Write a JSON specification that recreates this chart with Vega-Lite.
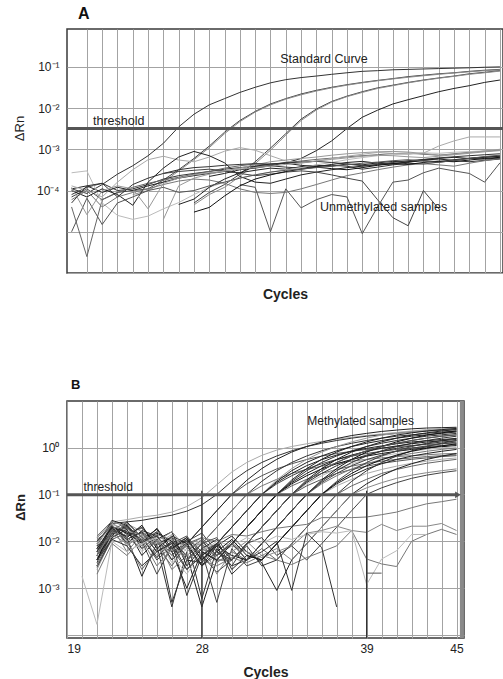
{
"$schema": "https://vega.github.io/schema/vega-lite/v6.json",
"background": "white",
"padding": {"left": 12, "top": 5, "right": 0, "bottom": 2},
"spacing": 76,
"config": {
  "font": "Liberation Sans",
  "view": {"stroke": "#3a3a3a", "strokeWidth": 1.5},
  "axis": {"gridColor": "#a3a3a3", "gridWidth": 1, "gridOpacity": 1, "ticks": false, "domain": false, "labelColor": "#222", "titleColor": "#222", "labelFont": "Liberation Sans", "titleFont": "Liberation Sans", "tickCount": 100},
  "title": {"font": "Liberation Sans", "color": "#111"}
},
"resolve": {"scale": {"color": "independent"}},
"datasets": {
"A": [
{"s":"S1","c":1,"v":1.1e-4},{"s":"S1","c":2,"v":8.5e-5},{"s":"S1","c":3,"v":1.4e-4},{"s":"S1","c":4,"v":2.5e-4},{"s":"S1","c":5,"v":4.0e-4},{"s":"S1","c":6,"v":7.0e-4},{"s":"S1","c":7,"v":1.4e-3},{"s":"S1","c":8,"v":3.5e-3},{"s":"S1","c":9,"v":7.1e-3},{"s":"S1","c":10,"v":1.2e-2},{"s":"S1","c":11,"v":1.7e-2},{"s":"S1","c":12,"v":2.4e-2},{"s":"S1","c":13,"v":3.2e-2},{"s":"S1","c":14,"v":4.1e-2},{"s":"S1","c":15,"v":4.9e-2},{"s":"S1","c":16,"v":5.5e-2},{"s":"S1","c":17,"v":6.0e-2},{"s":"S1","c":18,"v":6.6e-2},{"s":"S1","c":19,"v":7.2e-2},{"s":"S1","c":20,"v":7.8e-2},{"s":"S1","c":21,"v":8.1e-2},{"s":"S1","c":22,"v":8.5e-2},{"s":"S1","c":23,"v":8.7e-2},{"s":"S1","c":24,"v":8.9e-2},{"s":"S1","c":25,"v":9.1e-2},{"s":"S1","c":26,"v":9.3e-2},{"s":"S1","c":27,"v":9.5e-2},{"s":"S1","c":28,"v":9.8e-2},{"s":"S1","c":29,"v":0.1},
{"s":"S2","c":1,"v":7e-5},{"s":"S2","c":2,"v":1.1e-4},{"s":"S2","c":3,"v":6e-5},{"s":"S2","c":4,"v":9e-5},{"s":"S2","c":5,"v":1.0e-4},{"s":"S2","c":6,"v":1.1e-4},{"s":"S2","c":7,"v":1.8e-4},{"s":"S2","c":8,"v":3.2e-4},{"s":"S2","c":9,"v":6.0e-4},{"s":"S2","c":10,"v":1.2e-3},{"s":"S2","c":11,"v":2.6e-3},{"s":"S2","c":12,"v":5.0e-3},{"s":"S2","c":13,"v":8.3e-3},{"s":"S2","c":14,"v":1.26e-2},{"s":"S2","c":15,"v":1.7e-2},{"s":"S2","c":16,"v":2.2e-2},{"s":"S2","c":17,"v":2.7e-2},{"s":"S2","c":18,"v":3.2e-2},{"s":"S2","c":19,"v":3.7e-2},{"s":"S2","c":20,"v":4.2e-2},{"s":"S2","c":21,"v":4.7e-2},{"s":"S2","c":22,"v":5.2e-2},{"s":"S2","c":23,"v":5.8e-2},{"s":"S2","c":24,"v":6.3e-2},{"s":"S2","c":25,"v":6.8e-2},{"s":"S2","c":26,"v":7.2e-2},{"s":"S2","c":27,"v":7.8e-2},{"s":"S2","c":28,"v":8.3e-2},{"s":"S2","c":29,"v":8.7e-2},
{"s":"S3","c":5,"v":8e-5},{"s":"S3","c":6,"v":1.0e-4},{"s":"S3","c":7,"v":1.6e-4},{"s":"S3","c":8,"v":3.0e-4},{"s":"S3","c":9,"v":5.6e-4},{"s":"S3","c":10,"v":1.1e-3},{"s":"S3","c":11,"v":2.4e-3},{"s":"S3","c":12,"v":4.7e-3},{"s":"S3","c":13,"v":8.0e-3},{"s":"S3","c":14,"v":1.2e-2},{"s":"S3","c":15,"v":1.65e-2},{"s":"S3","c":16,"v":2.1e-2},{"s":"S3","c":17,"v":2.6e-2},{"s":"S3","c":18,"v":3.1e-2},{"s":"S3","c":19,"v":3.6e-2},{"s":"S3","c":20,"v":4.1e-2},{"s":"S3","c":21,"v":4.6e-2},{"s":"S3","c":22,"v":5.1e-2},{"s":"S3","c":23,"v":5.6e-2},{"s":"S3","c":24,"v":6.1e-2},{"s":"S3","c":25,"v":6.6e-2},{"s":"S3","c":26,"v":7.1e-2},{"s":"S3","c":27,"v":7.6e-2},{"s":"S3","c":28,"v":8.1e-2},{"s":"S3","c":29,"v":8.5e-2},
{"s":"S4","c":9,"v":5e-5},{"s":"S4","c":10,"v":9e-5},{"s":"S4","c":11,"v":1.4e-4},{"s":"S4","c":12,"v":2.5e-4},{"s":"S4","c":13,"v":5.0e-4},{"s":"S4","c":14,"v":1.07e-3},{"s":"S4","c":15,"v":2.4e-3},{"s":"S4","c":16,"v":5.4e-3},{"s":"S4","c":17,"v":9.5e-3},{"s":"S4","c":18,"v":1.45e-2},{"s":"S4","c":19,"v":1.95e-2},{"s":"S4","c":20,"v":2.5e-2},{"s":"S4","c":21,"v":3.1e-2},{"s":"S4","c":22,"v":3.6e-2},{"s":"S4","c":23,"v":4.2e-2},{"s":"S4","c":24,"v":4.8e-2},{"s":"S4","c":25,"v":5.4e-2},{"s":"S4","c":26,"v":6.0e-2},{"s":"S4","c":27,"v":6.8e-2},{"s":"S4","c":28,"v":7.4e-2},{"s":"S4","c":29,"v":8.1e-2},
{"s":"S5","c":9,"v":4.5e-5},{"s":"S5","c":10,"v":8e-5},{"s":"S5","c":11,"v":1.2e-4},{"s":"S5","c":12,"v":2.2e-4},{"s":"S5","c":13,"v":4.5e-4},{"s":"S5","c":14,"v":9.5e-4},{"s":"S5","c":15,"v":2.2e-3},{"s":"S5","c":16,"v":5.0e-3},{"s":"S5","c":17,"v":9.0e-3},{"s":"S5","c":18,"v":1.4e-2},{"s":"S5","c":19,"v":1.9e-2},{"s":"S5","c":20,"v":2.4e-2},{"s":"S5","c":21,"v":3.0e-2},{"s":"S5","c":22,"v":3.5e-2},{"s":"S5","c":23,"v":4.1e-2},{"s":"S5","c":24,"v":4.7e-2},{"s":"S5","c":25,"v":5.3e-2},{"s":"S5","c":26,"v":5.9e-2},{"s":"S5","c":27,"v":6.6e-2},{"s":"S5","c":28,"v":7.2e-2},{"s":"S5","c":29,"v":7.9e-2},
{"s":"S6","c":10,"v":2.2e-4},{"s":"S6","c":11,"v":2.6e-4},{"s":"S6","c":12,"v":3.2e-4},{"s":"S6","c":13,"v":3.5e-4},{"s":"S6","c":14,"v":4.0e-4},{"s":"S6","c":15,"v":4.7e-4},{"s":"S6","c":16,"v":6.0e-4},{"s":"S6","c":17,"v":9.3e-4},{"s":"S6","c":18,"v":1.6e-3},{"s":"S6","c":19,"v":3.2e-3},{"s":"S6","c":20,"v":6.0e-3},{"s":"S6","c":21,"v":8.9e-3},{"s":"S6","c":22,"v":1.26e-2},{"s":"S6","c":23,"v":1.6e-2},{"s":"S6","c":24,"v":2.0e-2},{"s":"S6","c":25,"v":2.5e-2},{"s":"S6","c":26,"v":3.0e-2},{"s":"S6","c":27,"v":3.5e-2},{"s":"S6","c":28,"v":4.2e-2},{"s":"S6","c":29,"v":4.8e-2},
{"s":"U1","c":1,"v":1.1e-4},{"s":"U1","c":2,"v":1.3e-4},{"s":"U1","c":3,"v":9e-5},{"s":"U1","c":4,"v":1.2e-4},{"s":"U1","c":5,"v":1.0e-4},{"s":"U1","c":6,"v":1.3e-4},{"s":"U1","c":7,"v":1.6e-4},{"s":"U1","c":8,"v":2.0e-4},{"s":"U1","c":9,"v":2.3e-4},{"s":"U1","c":10,"v":2.6e-4},{"s":"U1","c":11,"v":2.9e-4},{"s":"U1","c":12,"v":2.7e-4},{"s":"U1","c":13,"v":3.1e-4},{"s":"U1","c":14,"v":3.5e-4},{"s":"U1","c":15,"v":3.3e-4},{"s":"U1","c":16,"v":3.8e-4},{"s":"U1","c":17,"v":4.1e-4},{"s":"U1","c":18,"v":3.9e-4},{"s":"U1","c":19,"v":4.4e-4},{"s":"U1","c":20,"v":4.2e-4},{"s":"U1","c":21,"v":4.7e-4},{"s":"U1","c":22,"v":5.1e-4},{"s":"U1","c":23,"v":4.9e-4},{"s":"U1","c":24,"v":5.5e-4},{"s":"U1","c":25,"v":5.8e-4},{"s":"U1","c":26,"v":5.4e-4},{"s":"U1","c":27,"v":6.1e-4},{"s":"U1","c":28,"v":6.5e-4},{"s":"U1","c":29,"v":6.9e-4},
{"s":"U2","c":1,"v":8e-5},{"s":"U2","c":2,"v":1.2e-4},{"s":"U2","c":3,"v":1.5e-4},{"s":"U2","c":4,"v":1.0e-4},{"s":"U2","c":5,"v":1.1e-4},{"s":"U2","c":6,"v":1.4e-4},{"s":"U2","c":7,"v":1.9e-4},{"s":"U2","c":8,"v":2.3e-4},{"s":"U2","c":9,"v":2.6e-4},{"s":"U2","c":10,"v":2.9e-4},{"s":"U2","c":11,"v":3.3e-4},{"s":"U2","c":12,"v":3.6e-4},{"s":"U2","c":13,"v":3.9e-4},{"s":"U2","c":14,"v":4.0e-4},{"s":"U2","c":15,"v":3.7e-4},{"s":"U2","c":16,"v":3.5e-4},{"s":"U2","c":17,"v":3.8e-4},{"s":"U2","c":18,"v":4.1e-4},{"s":"U2","c":19,"v":3.9e-4},{"s":"U2","c":20,"v":3.3e-4},{"s":"U2","c":21,"v":3.7e-4},{"s":"U2","c":22,"v":4.2e-4},{"s":"U2","c":23,"v":4.6e-4},{"s":"U2","c":24,"v":4.4e-4},{"s":"U2","c":25,"v":4.9e-4},{"s":"U2","c":26,"v":5.3e-4},{"s":"U2","c":27,"v":5.0e-4},{"s":"U2","c":28,"v":5.4e-4},{"s":"U2","c":29,"v":5.8e-4},
{"s":"U3","c":1,"v":4e-5},{"s":"U3","c":2,"v":2.5e-6},{"s":"U3","c":3,"v":6e-5},{"s":"U3","c":4,"v":9e-5},{"s":"U3","c":5,"v":1.2e-4},{"s":"U3","c":6,"v":1.5e-4},{"s":"U3","c":7,"v":1.8e-4},{"s":"U3","c":8,"v":2.1e-4},{"s":"U3","c":9,"v":2.5e-4},{"s":"U3","c":10,"v":2.9e-4},{"s":"U3","c":11,"v":3.5e-4},{"s":"U3","c":12,"v":4.0e-4},{"s":"U3","c":13,"v":4.4e-4},{"s":"U3","c":14,"v":4.2e-4},{"s":"U3","c":15,"v":4.8e-4},{"s":"U3","c":16,"v":5.2e-4},{"s":"U3","c":17,"v":5.7e-4},{"s":"U3","c":18,"v":6.1e-4},{"s":"U3","c":19,"v":6.6e-4},{"s":"U3","c":20,"v":7.0e-4},{"s":"U3","c":21,"v":7.4e-4},{"s":"U3","c":22,"v":7.9e-4},{"s":"U3","c":23,"v":8.1e-4},{"s":"U3","c":24,"v":7.6e-4},{"s":"U3","c":25,"v":7.2e-4},{"s":"U3","c":26,"v":7.8e-4},{"s":"U3","c":27,"v":8.5e-4},{"s":"U3","c":28,"v":9.0e-4},{"s":"U3","c":29,"v":9.6e-4},
{"s":"U4","c":1,"v":2.7e-4},{"s":"U4","c":2,"v":3.0e-4},{"s":"U4","c":3,"v":5e-5},{"s":"U4","c":4,"v":2.5e-5},{"s":"U4","c":5,"v":2.0e-5},{"s":"U4","c":6,"v":2.4e-5},{"s":"U4","c":7,"v":3.6e-5},{"s":"U4","c":8,"v":5.1e-5},{"s":"U4","c":9,"v":8e-5},{"s":"U4","c":10,"v":1.2e-4},{"s":"U4","c":11,"v":1.6e-4},{"s":"U4","c":12,"v":2.0e-4},{"s":"U4","c":13,"v":2.4e-4},{"s":"U4","c":14,"v":2.8e-4},{"s":"U4","c":15,"v":3.2e-4},{"s":"U4","c":16,"v":3.6e-4},{"s":"U4","c":17,"v":4.2e-4},{"s":"U4","c":18,"v":4.8e-4},{"s":"U4","c":19,"v":5.6e-4},{"s":"U4","c":20,"v":6.3e-4},{"s":"U4","c":21,"v":7.0e-4},{"s":"U4","c":22,"v":7.4e-4},{"s":"U4","c":23,"v":7.8e-4},{"s":"U4","c":24,"v":8.2e-4},{"s":"U4","c":25,"v":8.0e-4},{"s":"U4","c":26,"v":8.5e-4},{"s":"U4","c":27,"v":8.8e-4},{"s":"U4","c":28,"v":9.2e-4},{"s":"U4","c":29,"v":1.0e-3},
{"s":"U5","c":1,"v":1.3e-4},{"s":"U5","c":2,"v":1.0e-4},{"s":"U5","c":3,"v":7e-5},{"s":"U5","c":4,"v":1.6e-4},{"s":"U5","c":5,"v":3.2e-4},{"s":"U5","c":6,"v":5.6e-4},{"s":"U5","c":7,"v":6.8e-4},{"s":"U5","c":8,"v":5.5e-4},{"s":"U5","c":9,"v":5.0e-4},{"s":"U5","c":10,"v":6.5e-4},{"s":"U5","c":11,"v":9.0e-4},{"s":"U5","c":12,"v":1.1e-3},{"s":"U5","c":13,"v":9.5e-4},{"s":"U5","c":14,"v":7.0e-4},{"s":"U5","c":15,"v":5.2e-4},{"s":"U5","c":16,"v":4.6e-4},{"s":"U5","c":17,"v":5.2e-4},{"s":"U5","c":18,"v":6.0e-4},{"s":"U5","c":19,"v":6.8e-4},{"s":"U5","c":20,"v":7.6e-4},{"s":"U5","c":21,"v":8.4e-4},{"s":"U5","c":22,"v":8.0e-4},{"s":"U5","c":23,"v":7.6e-4},{"s":"U5","c":24,"v":8.1e-4},{"s":"U5","c":25,"v":1.2e-3},{"s":"U5","c":26,"v":1.6e-3},{"s":"U5","c":27,"v":2.0e-3},{"s":"U5","c":28,"v":2.0e-3},{"s":"U5","c":29,"v":2.0e-3},
{"s":"U6","c":1,"v":1.0e-4},{"s":"U6","c":2,"v":7e-5},{"s":"U6","c":3,"v":1.1e-4},{"s":"U6","c":4,"v":8e-5},{"s":"U6","c":5,"v":4.4e-5},{"s":"U6","c":6,"v":1.6e-4},{"s":"U6","c":7,"v":3.5e-4},{"s":"U6","c":8,"v":6.5e-4},{"s":"U6","c":9,"v":8.9e-4},{"s":"U6","c":10,"v":7.0e-4},{"s":"U6","c":11,"v":4.7e-4},{"s":"U6","c":12,"v":2.2e-4},{"s":"U6","c":13,"v":1.6e-4},{"s":"U6","c":14,"v":1.5e-4},{"s":"U6","c":15,"v":1.9e-4},{"s":"U6","c":16,"v":2.4e-4},{"s":"U6","c":17,"v":2.8e-4},{"s":"U6","c":18,"v":3.2e-4},{"s":"U6","c":19,"v":3.6e-4},{"s":"U6","c":20,"v":3.9e-4},{"s":"U6","c":21,"v":4.2e-4},{"s":"U6","c":22,"v":4.5e-4},{"s":"U6","c":23,"v":4.9e-4},{"s":"U6","c":24,"v":5.3e-4},{"s":"U6","c":25,"v":5.0e-4},{"s":"U6","c":26,"v":5.6e-4},{"s":"U6","c":27,"v":6.0e-4},{"s":"U6","c":28,"v":6.4e-4},{"s":"U6","c":29,"v":6.8e-4},
{"s":"U7","c":12,"v":1.4e-4},{"s":"U7","c":13,"v":1.2e-4},{"s":"U7","c":14,"v":1.0e-5},{"s":"U7","c":15,"v":1.1e-4},{"s":"U7","c":16,"v":3.8e-5},{"s":"U7","c":17,"v":6e-5},{"s":"U7","c":18,"v":8e-5},{"s":"U7","c":19,"v":7e-5},{"s":"U7","c":20,"v":9e-6},{"s":"U7","c":21,"v":4e-5},{"s":"U7","c":22,"v":1.6e-4},{"s":"U7","c":23,"v":1.8e-4},{"s":"U7","c":24,"v":2.7e-4},{"s":"U7","c":25,"v":3.5e-4},{"s":"U7","c":26,"v":3.0e-4},{"s":"U7","c":27,"v":2.6e-4},{"s":"U7","c":28,"v":1.6e-4},{"s":"U7","c":29,"v":4.7e-4},
{"s":"U8","c":1,"v":6e-5},{"s":"U8","c":2,"v":1.0e-4},{"s":"U8","c":3,"v":4e-5},{"s":"U8","c":4,"v":7e-5},{"s":"U8","c":5,"v":9e-5},{"s":"U8","c":6,"v":1.1e-4},{"s":"U8","c":7,"v":1.4e-4},{"s":"U8","c":8,"v":1.7e-4},{"s":"U8","c":9,"v":1.9e-4},{"s":"U8","c":10,"v":1.8e-4},{"s":"U8","c":11,"v":1.5e-4},{"s":"U8","c":12,"v":1.1e-4},{"s":"U8","c":13,"v":9e-5},{"s":"U8","c":14,"v":8.5e-5},{"s":"U8","c":15,"v":9e-5},{"s":"U8","c":16,"v":1.1e-4},{"s":"U8","c":17,"v":1.4e-4},{"s":"U8","c":18,"v":1.8e-4},{"s":"U8","c":19,"v":2.3e-4},{"s":"U8","c":20,"v":2.7e-4},{"s":"U8","c":21,"v":3.2e-4},{"s":"U8","c":22,"v":3.7e-4},{"s":"U8","c":23,"v":4.2e-4},{"s":"U8","c":24,"v":4.5e-4},{"s":"U8","c":25,"v":4.2e-4},{"s":"U8","c":26,"v":3.9e-4},{"s":"U8","c":27,"v":4.6e-4},{"s":"U8","c":28,"v":5.3e-4},{"s":"U8","c":29,"v":6.0e-4},
{"s":"U9","c":7,"v":2.6e-4},{"s":"U9","c":8,"v":2.9e-4},{"s":"U9","c":9,"v":3.1e-4},{"s":"U9","c":10,"v":3.3e-4},{"s":"U9","c":11,"v":3.0e-4},{"s":"U9","c":12,"v":2.6e-4},{"s":"U9","c":13,"v":2.3e-4},{"s":"U9","c":14,"v":2.5e-4},{"s":"U9","c":15,"v":2.8e-4},{"s":"U9","c":16,"v":3.0e-4},{"s":"U9","c":17,"v":2.8e-4},{"s":"U9","c":18,"v":2.4e-4},{"s":"U9","c":19,"v":2.0e-4},{"s":"U9","c":20,"v":1.7e-4},{"s":"U9","c":21,"v":6e-5},{"s":"U9","c":22,"v":2.2e-5},{"s":"U9","c":23,"v":1.4e-5},{"s":"U9","c":24,"v":1.0e-4},{"s":"U9","c":25,"v":3.6e-5},
{"s":"U10","c":8,"v":4.6e-5},{"s":"U10","c":9,"v":6.2e-5},{"s":"U10","c":10,"v":1.2e-4},{"s":"U10","c":11,"v":1.9e-4},{"s":"U10","c":12,"v":2.7e-4},{"s":"U10","c":13,"v":3.9e-4},{"s":"U10","c":14,"v":4.4e-4},{"s":"U10","c":15,"v":4.6e-4},{"s":"U10","c":16,"v":4.1e-4},{"s":"U10","c":17,"v":3.8e-4},{"s":"U10","c":18,"v":4.3e-4},{"s":"U10","c":19,"v":4.8e-4},{"s":"U10","c":20,"v":5.1e-4},{"s":"U10","c":21,"v":4.6e-4},{"s":"U10","c":22,"v":4.4e-4},{"s":"U10","c":23,"v":5.0e-4},{"s":"U10","c":24,"v":5.6e-4},{"s":"U10","c":25,"v":6.0e-4},{"s":"U10","c":26,"v":6.4e-4},{"s":"U10","c":27,"v":6.0e-4},{"s":"U10","c":28,"v":5.8e-4},{"s":"U10","c":29,"v":6.2e-4},
{"s":"U11","c":9,"v":3.0e-5},{"s":"U11","c":10,"v":3.9e-5},{"s":"U11","c":11,"v":7.4e-5},{"s":"U11","c":12,"v":1.3e-4},{"s":"U11","c":13,"v":1.9e-4},{"s":"U11","c":14,"v":2.4e-4},{"s":"U11","c":15,"v":2.9e-4},{"s":"U11","c":16,"v":3.3e-4},{"s":"U11","c":17,"v":3.7e-4},{"s":"U11","c":18,"v":3.4e-4},{"s":"U11","c":19,"v":3.2e-4},{"s":"U11","c":20,"v":3.6e-4},{"s":"U11","c":21,"v":4.1e-4},{"s":"U11","c":22,"v":4.5e-4},{"s":"U11","c":23,"v":4.3e-4},{"s":"U11","c":24,"v":4.8e-4},{"s":"U11","c":25,"v":5.2e-4},{"s":"U11","c":26,"v":5.0e-4},{"s":"U11","c":27,"v":5.5e-4},{"s":"U11","c":28,"v":6.0e-4},{"s":"U11","c":29,"v":6.4e-4},
{"s":"U12","c":7,"v":2.0e-5},{"s":"U12","c":8,"v":1.3e-4},{"s":"U12","c":9,"v":2.0e-4},{"s":"U12","c":10,"v":2.5e-4},{"s":"U12","c":11,"v":3.0e-4},{"s":"U12","c":12,"v":3.5e-4},{"s":"U12","c":13,"v":4.2e-4},{"s":"U12","c":14,"v":5.0e-4},{"s":"U12","c":15,"v":5.5e-4},{"s":"U12","c":16,"v":6.0e-4},{"s":"U12","c":17,"v":6.5e-4},{"s":"U12","c":18,"v":7.2e-4},{"s":"U12","c":19,"v":7.8e-4},{"s":"U12","c":20,"v":8.3e-4},{"s":"U12","c":21,"v":8.7e-4},{"s":"U12","c":22,"v":8.9e-4},{"s":"U12","c":23,"v":8.6e-4},{"s":"U12","c":24,"v":7.9e-4},{"s":"U12","c":25,"v":7.2e-4},{"s":"U12","c":26,"v":7.6e-4},{"s":"U12","c":27,"v":8.3e-4},{"s":"U12","c":28,"v":9.1e-4},{"s":"U12","c":29,"v":1.0e-3},
{"s":"U13","c":1,"v":5e-5},{"s":"U13","c":2,"v":1.3e-4},{"s":"U13","c":3,"v":1.5e-4},{"s":"U13","c":4,"v":7e-5},{"s":"U13","c":5,"v":1.4e-4},{"s":"U13","c":6,"v":2.0e-4},{"s":"U13","c":7,"v":2.6e-4},{"s":"U13","c":8,"v":3.2e-4},{"s":"U13","c":9,"v":3.6e-4},{"s":"U13","c":10,"v":3.8e-4},{"s":"U13","c":11,"v":4.1e-4},{"s":"U13","c":12,"v":4.3e-4},{"s":"U13","c":13,"v":4.5e-4},{"s":"U13","c":14,"v":4.4e-4},{"s":"U13","c":15,"v":4.7e-4},{"s":"U13","c":16,"v":4.9e-4},{"s":"U13","c":17,"v":5.1e-4},{"s":"U13","c":18,"v":4.8e-4},{"s":"U13","c":19,"v":4.4e-4},{"s":"U13","c":20,"v":4.0e-4},{"s":"U13","c":21,"v":4.3e-4},{"s":"U13","c":22,"v":4.8e-4},{"s":"U13","c":23,"v":5.3e-4},{"s":"U13","c":24,"v":5.7e-4},{"s":"U13","c":25,"v":6.2e-4},{"s":"U13","c":26,"v":6.6e-4},{"s":"U13","c":27,"v":7.0e-4},{"s":"U13","c":28,"v":7.4e-4},{"s":"U13","c":29,"v":7.8e-4},
{"s":"U14","c":1,"v":1.0e-5},{"s":"U14","c":2,"v":6.5e-5},{"s":"U14","c":3,"v":1.5e-5},{"s":"U14","c":4,"v":5.0e-5},{"s":"U14","c":5,"v":7e-5},{"s":"U14","c":6,"v":1.0e-4},{"s":"U14","c":7,"v":1.2e-4},{"s":"U14","c":8,"v":9e-5},{"s":"U14","c":9,"v":1.0e-4},{"s":"U14","c":10,"v":1.3e-4},{"s":"U14","c":11,"v":1.6e-4},{"s":"U14","c":12,"v":2.0e-4},{"s":"U14","c":13,"v":2.4e-4},{"s":"U14","c":14,"v":2.8e-4},{"s":"U14","c":15,"v":3.1e-4},{"s":"U14","c":16,"v":3.3e-4},{"s":"U14","c":17,"v":3.6e-4},{"s":"U14","c":18,"v":3.9e-4},{"s":"U14","c":19,"v":4.2e-4},{"s":"U14","c":20,"v":4.6e-4},{"s":"U14","c":21,"v":4.9e-4},{"s":"U14","c":22,"v":5.3e-4},{"s":"U14","c":23,"v":5.6e-4},{"s":"U14","c":24,"v":5.2e-4},{"s":"U14","c":25,"v":4.8e-4},{"s":"U14","c":26,"v":5.4e-4},{"s":"U14","c":27,"v":6.0e-4},{"s":"U14","c":28,"v":6.7e-4},{"s":"U14","c":29,"v":7.2e-4},
{"s":"U15","c":1,"v":1.2e-4},{"s":"U15","c":2,"v":2.6e-5},{"s":"U15","c":3,"v":1.0e-4},{"s":"U15","c":4,"v":1.3e-4},{"s":"U15","c":5,"v":1.1e-4},{"s":"U15","c":6,"v":3.6e-5},{"s":"U15","c":7,"v":1.5e-4},{"s":"U15","c":8,"v":2.0e-4},{"s":"U15","c":9,"v":2.4e-4},{"s":"U15","c":10,"v":2.7e-4},{"s":"U15","c":11,"v":3.0e-4},{"s":"U15","c":12,"v":3.3e-4},{"s":"U15","c":13,"v":3.6e-4},{"s":"U15","c":14,"v":3.9e-4},{"s":"U15","c":15,"v":4.3e-4},{"s":"U15","c":16,"v":4.7e-4},{"s":"U15","c":17,"v":5.2e-4},{"s":"U15","c":18,"v":5.7e-4},{"s":"U15","c":19,"v":6.2e-4},{"s":"U15","c":20,"v":6.8e-4},{"s":"U15","c":21,"v":7.2e-4},{"s":"U15","c":22,"v":7.0e-4},{"s":"U15","c":23,"v":6.6e-4},{"s":"U15","c":24,"v":6.3e-4},{"s":"U15","c":25,"v":6.8e-4},{"s":"U15","c":26,"v":7.4e-4},{"s":"U15","c":27,"v":8.0e-4},{"s":"U15","c":28,"v":8.7e-4},{"s":"U15","c":29,"v":9.3e-4}
],
"B": [
{"s":"M1","c":21,"v":1.2e-2},{"s":"M1","c":22,"v":2.6e-2},{"s":"M1","c":23,"v":2.9e-2},{"s":"M1","c":24,"v":3.3e-2},{"s":"M1","c":25,"v":3.6e-2},{"s":"M1","c":26,"v":4.2e-2},{"s":"M1","c":27,"v":5.5e-2},{"s":"M1","c":28,"v":8.5e-2},{"s":"M1","c":29,"v":0.16},{"s":"M1","c":30,"v":0.3},{"s":"M1","c":31,"v":0.48},{"s":"M1","c":32,"v":0.68},{"s":"M1","c":33,"v":0.88},{"s":"M1","c":34,"v":1.05},{"s":"M1","c":35,"v":1.2},{"s":"M1","c":36,"v":1.35},{"s":"M1","c":37,"v":1.5},{"s":"M1","c":38,"v":1.65},{"s":"M1","c":39,"v":1.8},{"s":"M1","c":40,"v":1.95},{"s":"M1","c":41,"v":2.1},{"s":"M1","c":42,"v":2.25},{"s":"M1","c":43,"v":2.4},{"s":"M1","c":44,"v":2.5},{"s":"M1","c":45,"v":2.6},
{"s":"M2","c":21,"v":6e-3},{"s":"M2","c":22,"v":2.4e-2},{"s":"M2","c":23,"v":2.6e-2},{"s":"M2","c":24,"v":2.8e-2},{"s":"M2","c":25,"v":3.2e-2},{"s":"M2","c":26,"v":3.6e-2},{"s":"M2","c":27,"v":4.4e-2},{"s":"M2","c":28,"v":6.0e-2},{"s":"M2","c":29,"v":0.1},{"s":"M2","c":30,"v":0.19},{"s":"M2","c":31,"v":0.32},{"s":"M2","c":32,"v":0.48},{"s":"M2","c":33,"v":0.66},{"s":"M2","c":34,"v":0.85},{"s":"M2","c":35,"v":1.05},{"s":"M2","c":36,"v":1.23},{"s":"M2","c":37,"v":1.41},{"s":"M2","c":38,"v":1.58},{"s":"M2","c":39,"v":1.74},{"s":"M2","c":40,"v":1.86},{"s":"M2","c":41,"v":2.0},{"s":"M2","c":42,"v":2.14},{"s":"M2","c":43,"v":2.24},{"s":"M2","c":44,"v":2.34},{"s":"M2","c":45,"v":2.45},
{"s":"M3","c":21,"v":4e-3},{"s":"M3","c":22,"v":1.8e-2},{"s":"M3","c":23,"v":1.1e-2},{"s":"M3","c":24,"v":1.6e-2},{"s":"M3","c":25,"v":9e-3},{"s":"M3","c":26,"v":6e-3},{"s":"M3","c":27,"v":8.9e-3},{"s":"M3","c":28,"v":2.0e-2},{"s":"M3","c":29,"v":4.5e-2},{"s":"M3","c":30,"v":0.1},{"s":"M3","c":31,"v":0.168},{"s":"M3","c":32,"v":0.25},{"s":"M3","c":33,"v":0.35},{"s":"M3","c":34,"v":0.45},{"s":"M3","c":35,"v":0.555},{"s":"M3","c":36,"v":0.655},{"s":"M3","c":37,"v":0.745},{"s":"M3","c":38,"v":0.83},{"s":"M3","c":39,"v":0.91},{"s":"M3","c":40,"v":0.98},{"s":"M3","c":41,"v":1.04},{"s":"M3","c":42,"v":1.1},{"s":"M3","c":43,"v":1.16},{"s":"M3","c":44,"v":1.2},{"s":"M3","c":45,"v":1.25},
{"s":"M4","c":21,"v":8e-3},{"s":"M4","c":22,"v":2.8e-2},{"s":"M4","c":23,"v":2.2e-2},{"s":"M4","c":24,"v":7e-3},{"s":"M4","c":25,"v":1.3e-2},{"s":"M4","c":26,"v":4.0e-3},{"s":"M4","c":27,"v":8.9e-3},{"s":"M4","c":28,"v":2.0e-2},{"s":"M4","c":29,"v":4.5e-2},{"s":"M4","c":30,"v":0.1},{"s":"M4","c":31,"v":0.2},{"s":"M4","c":32,"v":0.355},{"s":"M4","c":33,"v":0.56},{"s":"M4","c":34,"v":0.8},{"s":"M4","c":35,"v":1.05},{"s":"M4","c":36,"v":1.3},{"s":"M4","c":37,"v":1.55},{"s":"M4","c":38,"v":1.8},{"s":"M4","c":39,"v":2.0},{"s":"M4","c":40,"v":2.2},{"s":"M4","c":41,"v":2.35},{"s":"M4","c":42,"v":2.5},{"s":"M4","c":43,"v":2.6},{"s":"M4","c":44,"v":2.65},{"s":"M4","c":45,"v":2.7},
{"s":"M5","c":21,"v":3e-3},{"s":"M5","c":22,"v":1.5e-2},{"s":"M5","c":23,"v":2.0e-2},{"s":"M5","c":24,"v":1.0e-2},{"s":"M5","c":25,"v":1.6e-2},{"s":"M5","c":26,"v":5e-4},{"s":"M5","c":27,"v":4.0e-3},{"s":"M5","c":28,"v":8.9e-3},{"s":"M5","c":29,"v":2.0e-2},{"s":"M5","c":30,"v":4.5e-2},{"s":"M5","c":31,"v":0.1},{"s":"M5","c":32,"v":0.19},{"s":"M5","c":33,"v":0.32},{"s":"M5","c":34,"v":0.48},{"s":"M5","c":35,"v":0.66},{"s":"M5","c":36,"v":0.85},{"s":"M5","c":37,"v":1.05},{"s":"M5","c":38,"v":1.23},{"s":"M5","c":39,"v":1.41},{"s":"M5","c":40,"v":1.58},{"s":"M5","c":41,"v":1.74},{"s":"M5","c":42,"v":1.86},{"s":"M5","c":43,"v":2.0},{"s":"M5","c":44,"v":2.14},{"s":"M5","c":45,"v":2.24},
{"s":"M6","c":21,"v":1.0e-2},{"s":"M6","c":22,"v":2.0e-2},{"s":"M6","c":23,"v":6e-3},{"s":"M6","c":24,"v":1.4e-2},{"s":"M6","c":25,"v":1.1e-2},{"s":"M6","c":26,"v":2.5e-3},{"s":"M6","c":27,"v":5e-3},{"s":"M6","c":28,"v":8.9e-3},{"s":"M6","c":29,"v":2.0e-2},{"s":"M6","c":30,"v":4.5e-2},{"s":"M6","c":31,"v":0.1},{"s":"M6","c":32,"v":0.152},{"s":"M6","c":33,"v":0.21},{"s":"M6","c":34,"v":0.28},{"s":"M6","c":35,"v":0.34},{"s":"M6","c":36,"v":0.4},{"s":"M6","c":37,"v":0.46},{"s":"M6","c":38,"v":0.51},{"s":"M6","c":39,"v":0.56},{"s":"M6","c":40,"v":0.6},{"s":"M6","c":41,"v":0.64},{"s":"M6","c":42,"v":0.67},{"s":"M6","c":43,"v":0.7},{"s":"M6","c":44,"v":0.73},{"s":"M6","c":45,"v":0.75},
{"s":"M7","c":21,"v":5e-3},{"s":"M7","c":22,"v":2.2e-2},{"s":"M7","c":23,"v":1.2e-2},{"s":"M7","c":24,"v":1.8e-3},{"s":"M7","c":25,"v":9e-3},{"s":"M7","c":26,"v":1.2e-2},{"s":"M7","c":27,"v":4e-3},{"s":"M7","c":28,"v":3.5e-3},{"s":"M7","c":29,"v":8.9e-3},{"s":"M7","c":30,"v":2.0e-2},{"s":"M7","c":31,"v":4.5e-2},{"s":"M7","c":32,"v":0.1},{"s":"M7","c":33,"v":0.19},{"s":"M7","c":34,"v":0.32},{"s":"M7","c":35,"v":0.48},{"s":"M7","c":36,"v":0.66},{"s":"M7","c":37,"v":0.85},{"s":"M7","c":38,"v":1.05},{"s":"M7","c":39,"v":1.23},{"s":"M7","c":40,"v":1.41},{"s":"M7","c":41,"v":1.58},{"s":"M7","c":42,"v":1.74},{"s":"M7","c":43,"v":1.86},{"s":"M7","c":44,"v":2.0},{"s":"M7","c":45,"v":2.14},
{"s":"M8","c":21,"v":7e-3},{"s":"M8","c":22,"v":1.6e-2},{"s":"M8","c":23,"v":1.9e-2},{"s":"M8","c":24,"v":1.3e-2},{"s":"M8","c":25,"v":4e-3},{"s":"M8","c":26,"v":8e-3},{"s":"M8","c":27,"v":1.0e-2},{"s":"M8","c":28,"v":5e-3},{"s":"M8","c":29,"v":8.9e-3},{"s":"M8","c":30,"v":2.0e-2},{"s":"M8","c":31,"v":4.5e-2},{"s":"M8","c":32,"v":0.1},{"s":"M8","c":33,"v":0.168},{"s":"M8","c":34,"v":0.25},{"s":"M8","c":35,"v":0.35},{"s":"M8","c":36,"v":0.45},{"s":"M8","c":37,"v":0.555},{"s":"M8","c":38,"v":0.655},{"s":"M8","c":39,"v":0.745},{"s":"M8","c":40,"v":0.83},{"s":"M8","c":41,"v":0.91},{"s":"M8","c":42,"v":0.98},{"s":"M8","c":43,"v":1.04},{"s":"M8","c":44,"v":1.1},{"s":"M8","c":45,"v":1.16},
{"s":"M9","c":21,"v":2.5e-3},{"s":"M9","c":22,"v":1.2e-2},{"s":"M9","c":23,"v":2.4e-2},{"s":"M9","c":24,"v":1.6e-2},{"s":"M9","c":25,"v":1.1e-2},{"s":"M9","c":26,"v":5e-3},{"s":"M9","c":27,"v":9e-3},{"s":"M9","c":28,"v":4.0e-3},{"s":"M9","c":29,"v":8.9e-3},{"s":"M9","c":30,"v":2.0e-2},{"s":"M9","c":31,"v":4.5e-2},{"s":"M9","c":32,"v":0.1},{"s":"M9","c":33,"v":0.203},{"s":"M9","c":34,"v":0.355},{"s":"M9","c":35,"v":0.56},{"s":"M9","c":36,"v":0.8},{"s":"M9","c":37,"v":1.05},{"s":"M9","c":38,"v":1.32},{"s":"M9","c":39,"v":1.58},{"s":"M9","c":40,"v":1.84},{"s":"M9","c":41,"v":2.0},{"s":"M9","c":42,"v":2.15},{"s":"M9","c":43,"v":2.3},{"s":"M9","c":44,"v":2.4},{"s":"M9","c":45,"v":2.5},
{"s":"M10","c":21,"v":9e-3},{"s":"M10","c":22,"v":2.5e-2},{"s":"M10","c":23,"v":1.4e-2},{"s":"M10","c":24,"v":2.0e-2},{"s":"M10","c":25,"v":8e-3},{"s":"M10","c":26,"v":4e-4},{"s":"M10","c":27,"v":6e-3},{"s":"M10","c":28,"v":1.1e-2},{"s":"M10","c":29,"v":4.0e-3},{"s":"M10","c":30,"v":8.9e-3},{"s":"M10","c":31,"v":2.0e-2},{"s":"M10","c":32,"v":4.5e-2},{"s":"M10","c":33,"v":0.1},{"s":"M10","c":34,"v":0.19},{"s":"M10","c":35,"v":0.32},{"s":"M10","c":36,"v":0.48},{"s":"M10","c":37,"v":0.66},{"s":"M10","c":38,"v":0.85},{"s":"M10","c":39,"v":1.05},{"s":"M10","c":40,"v":1.23},{"s":"M10","c":41,"v":1.41},{"s":"M10","c":42,"v":1.58},{"s":"M10","c":43,"v":1.74},{"s":"M10","c":44,"v":1.86},{"s":"M10","c":45,"v":2.0},
{"s":"M11","c":21,"v":4e-3},{"s":"M11","c":22,"v":1.4e-2},{"s":"M11","c":23,"v":2.2e-2},{"s":"M11","c":24,"v":9e-3},{"s":"M11","c":25,"v":1.5e-2},{"s":"M11","c":26,"v":1.0e-2},{"s":"M11","c":27,"v":4e-3},{"s":"M11","c":28,"v":7e-3},{"s":"M11","c":29,"v":5e-3},{"s":"M11","c":30,"v":8.9e-3},{"s":"M11","c":31,"v":2.0e-2},{"s":"M11","c":32,"v":4.5e-2},{"s":"M11","c":33,"v":0.1},{"s":"M11","c":34,"v":0.168},{"s":"M11","c":35,"v":0.25},{"s":"M11","c":36,"v":0.35},{"s":"M11","c":37,"v":0.45},{"s":"M11","c":38,"v":0.555},{"s":"M11","c":39,"v":0.655},{"s":"M11","c":40,"v":0.745},{"s":"M11","c":41,"v":0.83},{"s":"M11","c":42,"v":0.91},{"s":"M11","c":43,"v":0.98},{"s":"M11","c":44,"v":1.04},{"s":"M11","c":45,"v":1.1},
{"s":"M12","c":21,"v":1.1e-2},{"s":"M12","c":22,"v":1.9e-2},{"s":"M12","c":23,"v":1.0e-2},{"s":"M12","c":24,"v":2.5e-3},{"s":"M12","c":25,"v":7e-3},{"s":"M12","c":26,"v":1.2e-2},{"s":"M12","c":27,"v":8e-3},{"s":"M12","c":28,"v":3e-3},{"s":"M12","c":29,"v":5e-3},{"s":"M12","c":30,"v":8.9e-3},{"s":"M12","c":31,"v":2.0e-2},{"s":"M12","c":32,"v":4.5e-2},{"s":"M12","c":33,"v":0.1},{"s":"M12","c":34,"v":0.152},{"s":"M12","c":35,"v":0.21},{"s":"M12","c":36,"v":0.28},{"s":"M12","c":37,"v":0.34},{"s":"M12","c":38,"v":0.4},{"s":"M12","c":39,"v":0.46},{"s":"M12","c":40,"v":0.51},{"s":"M12","c":41,"v":0.56},{"s":"M12","c":42,"v":0.6},{"s":"M12","c":43,"v":0.64},{"s":"M12","c":44,"v":0.67},{"s":"M12","c":45,"v":0.7},
{"s":"M13","c":21,"v":6e-3},{"s":"M13","c":22,"v":2.0e-2},{"s":"M13","c":23,"v":1.6e-2},{"s":"M13","c":24,"v":1.1e-2},{"s":"M13","c":25,"v":1.8e-2},{"s":"M13","c":26,"v":6e-3},{"s":"M13","c":27,"v":1.0e-3},{"s":"M13","c":28,"v":6e-3},{"s":"M13","c":29,"v":4.0e-3},{"s":"M13","c":30,"v":8.9e-3},{"s":"M13","c":31,"v":2.0e-2},{"s":"M13","c":32,"v":4.5e-2},{"s":"M13","c":33,"v":0.1},{"s":"M13","c":34,"v":0.203},{"s":"M13","c":35,"v":0.355},{"s":"M13","c":36,"v":0.56},{"s":"M13","c":37,"v":0.8},{"s":"M13","c":38,"v":1.05},{"s":"M13","c":39,"v":1.32},{"s":"M13","c":40,"v":1.58},{"s":"M13","c":41,"v":1.84},{"s":"M13","c":42,"v":2.05},{"s":"M13","c":43,"v":2.25},{"s":"M13","c":44,"v":2.4},{"s":"M13","c":45,"v":2.55},
{"s":"M14","c":21,"v":3.5e-3},{"s":"M14","c":22,"v":1.7e-2},{"s":"M14","c":23,"v":1.3e-2},{"s":"M14","c":24,"v":1.5e-2},{"s":"M14","c":25,"v":6e-3},{"s":"M14","c":26,"v":9e-3},{"s":"M14","c":27,"v":1.3e-2},{"s":"M14","c":28,"v":5e-3},{"s":"M14","c":29,"v":2.2e-3},{"s":"M14","c":30,"v":4.0e-3},{"s":"M14","c":31,"v":8.9e-3},{"s":"M14","c":32,"v":2.0e-2},{"s":"M14","c":33,"v":4.5e-2},{"s":"M14","c":34,"v":0.1},{"s":"M14","c":35,"v":0.19},{"s":"M14","c":36,"v":0.32},{"s":"M14","c":37,"v":0.48},{"s":"M14","c":38,"v":0.66},{"s":"M14","c":39,"v":0.85},{"s":"M14","c":40,"v":1.05},{"s":"M14","c":41,"v":1.23},{"s":"M14","c":42,"v":1.41},{"s":"M14","c":43,"v":1.58},{"s":"M14","c":44,"v":1.74},{"s":"M14","c":45,"v":1.86},
{"s":"M15","c":21,"v":8e-3},{"s":"M15","c":22,"v":2.3e-2},{"s":"M15","c":23,"v":1.7e-2},{"s":"M15","c":24,"v":6e-3},{"s":"M15","c":25,"v":1.2e-2},{"s":"M15","c":26,"v":3.5e-3},{"s":"M15","c":27,"v":7e-3},{"s":"M15","c":28,"v":1.1e-2},{"s":"M15","c":29,"v":6e-3},{"s":"M15","c":30,"v":4.0e-3},{"s":"M15","c":31,"v":8.9e-3},{"s":"M15","c":32,"v":2.0e-2},{"s":"M15","c":33,"v":4.5e-2},{"s":"M15","c":34,"v":0.1},{"s":"M15","c":35,"v":0.168},{"s":"M15","c":36,"v":0.25},{"s":"M15","c":37,"v":0.35},{"s":"M15","c":38,"v":0.45},{"s":"M15","c":39,"v":0.555},{"s":"M15","c":40,"v":0.655},{"s":"M15","c":41,"v":0.745},{"s":"M15","c":42,"v":0.83},{"s":"M15","c":43,"v":0.91},{"s":"M15","c":44,"v":0.98},{"s":"M15","c":45,"v":1.04},
{"s":"M16","c":21,"v":5e-3},{"s":"M16","c":22,"v":1.3e-2},{"s":"M16","c":23,"v":2.6e-2},{"s":"M16","c":24,"v":1.2e-2},{"s":"M16","c":25,"v":4.5e-3},{"s":"M16","c":26,"v":1.0e-2},{"s":"M16","c":27,"v":5e-3},{"s":"M16","c":28,"v":4e-4},{"s":"M16","c":29,"v":4e-3},{"s":"M16","c":30,"v":4.0e-3},{"s":"M16","c":31,"v":8.9e-3},{"s":"M16","c":32,"v":2.0e-2},{"s":"M16","c":33,"v":4.5e-2},{"s":"M16","c":34,"v":0.1},{"s":"M16","c":35,"v":0.203},{"s":"M16","c":36,"v":0.355},{"s":"M16","c":37,"v":0.56},{"s":"M16","c":38,"v":0.8},{"s":"M16","c":39,"v":1.05},{"s":"M16","c":40,"v":1.32},{"s":"M16","c":41,"v":1.58},{"s":"M16","c":42,"v":1.84},{"s":"M16","c":43,"v":2.05},{"s":"M16","c":44,"v":2.25},{"s":"M16","c":45,"v":2.4},
{"s":"M17","c":21,"v":2.8e-3},{"s":"M17","c":22,"v":1.1e-2},{"s":"M17","c":23,"v":1.5e-2},{"s":"M17","c":24,"v":1.9e-2},{"s":"M17","c":25,"v":1.0e-2},{"s":"M17","c":26,"v":7e-3},{"s":"M17","c":27,"v":2.5e-3},{"s":"M17","c":28,"v":6e-3},{"s":"M17","c":29,"v":9e-3},{"s":"M17","c":30,"v":4.0e-3},{"s":"M17","c":31,"v":8.9e-3},{"s":"M17","c":32,"v":2.0e-2},{"s":"M17","c":33,"v":4.5e-2},{"s":"M17","c":34,"v":0.1},{"s":"M17","c":35,"v":0.152},{"s":"M17","c":36,"v":0.21},{"s":"M17","c":37,"v":0.28},{"s":"M17","c":38,"v":0.34},{"s":"M17","c":39,"v":0.4},{"s":"M17","c":40,"v":0.46},{"s":"M17","c":41,"v":0.51},{"s":"M17","c":42,"v":0.56},{"s":"M17","c":43,"v":0.6},{"s":"M17","c":44,"v":0.64},{"s":"M17","c":45,"v":0.67},
{"s":"M18","c":21,"v":7e-3},{"s":"M18","c":22,"v":2.1e-2},{"s":"M18","c":23,"v":9e-3},{"s":"M18","c":24,"v":1.7e-2},{"s":"M18","c":25,"v":1.3e-2},{"s":"M18","c":26,"v":5e-3},{"s":"M18","c":27,"v":1.1e-2},{"s":"M18","c":28,"v":6e-4},{"s":"M18","c":29,"v":7e-3},{"s":"M18","c":30,"v":3e-3},{"s":"M18","c":31,"v":4.0e-3},{"s":"M18","c":32,"v":8.9e-3},{"s":"M18","c":33,"v":2.0e-2},{"s":"M18","c":34,"v":4.5e-2},{"s":"M18","c":35,"v":0.1},{"s":"M18","c":36,"v":0.19},{"s":"M18","c":37,"v":0.32},{"s":"M18","c":38,"v":0.48},{"s":"M18","c":39,"v":0.66},{"s":"M18","c":40,"v":0.85},{"s":"M18","c":41,"v":1.05},{"s":"M18","c":42,"v":1.23},{"s":"M18","c":43,"v":1.41},{"s":"M18","c":44,"v":1.58},{"s":"M18","c":45,"v":1.74},
{"s":"M19","c":21,"v":1.3e-2},{"s":"M19","c":22,"v":2.7e-2},{"s":"M19","c":23,"v":2.0e-2},{"s":"M19","c":24,"v":8e-3},{"s":"M19","c":25,"v":1.4e-2},{"s":"M19","c":26,"v":1.1e-2},{"s":"M19","c":27,"v":4e-3},{"s":"M19","c":28,"v":9e-3},{"s":"M19","c":29,"v":3.5e-3},{"s":"M19","c":30,"v":6e-3},{"s":"M19","c":31,"v":4.0e-3},{"s":"M19","c":32,"v":8.9e-3},{"s":"M19","c":33,"v":2.0e-2},{"s":"M19","c":34,"v":4.5e-2},{"s":"M19","c":35,"v":0.1},{"s":"M19","c":36,"v":0.168},{"s":"M19","c":37,"v":0.25},{"s":"M19","c":38,"v":0.35},{"s":"M19","c":39,"v":0.45},{"s":"M19","c":40,"v":0.555},{"s":"M19","c":41,"v":0.655},{"s":"M19","c":42,"v":0.745},{"s":"M19","c":43,"v":0.83},{"s":"M19","c":44,"v":0.91},{"s":"M19","c":45,"v":0.98},
{"s":"M20","c":21,"v":4e-3},{"s":"M20","c":22,"v":1.9e-2},{"s":"M20","c":23,"v":1.2e-2},{"s":"M20","c":24,"v":2.2e-2},{"s":"M20","c":25,"v":7e-3},{"s":"M20","c":26,"v":1.3e-2},{"s":"M20","c":27,"v":9e-3},{"s":"M20","c":28,"v":3e-3},{"s":"M20","c":29,"v":8e-3},{"s":"M20","c":30,"v":5e-3},{"s":"M20","c":31,"v":4.0e-3},{"s":"M20","c":32,"v":8.9e-3},{"s":"M20","c":33,"v":2.0e-2},{"s":"M20","c":34,"v":4.5e-2},{"s":"M20","c":35,"v":0.1},{"s":"M20","c":36,"v":0.203},{"s":"M20","c":37,"v":0.355},{"s":"M20","c":38,"v":0.56},{"s":"M20","c":39,"v":0.8},{"s":"M20","c":40,"v":1.05},{"s":"M20","c":41,"v":1.32},{"s":"M20","c":42,"v":1.58},{"s":"M20","c":43,"v":1.84},{"s":"M20","c":44,"v":2.05},{"s":"M20","c":45,"v":2.25},
{"s":"M21","c":21,"v":6e-3},{"s":"M21","c":22,"v":1.5e-2},{"s":"M21","c":23,"v":2.3e-2},{"s":"M21","c":24,"v":1.0e-2},{"s":"M21","c":25,"v":2.0e-3},{"s":"M21","c":26,"v":8e-3},{"s":"M21","c":27,"v":1.2e-2},{"s":"M21","c":28,"v":6e-3},{"s":"M21","c":29,"v":5e-4},{"s":"M21","c":30,"v":7e-3},{"s":"M21","c":31,"v":3e-3},{"s":"M21","c":32,"v":4.0e-3},{"s":"M21","c":33,"v":8.9e-3},{"s":"M21","c":34,"v":2.0e-2},{"s":"M21","c":35,"v":4.5e-2},{"s":"M21","c":36,"v":0.1},{"s":"M21","c":37,"v":0.19},{"s":"M21","c":38,"v":0.32},{"s":"M21","c":39,"v":0.48},{"s":"M21","c":40,"v":0.66},{"s":"M21","c":41,"v":0.85},{"s":"M21","c":42,"v":1.05},{"s":"M21","c":43,"v":1.23},{"s":"M21","c":44,"v":1.41},{"s":"M21","c":45,"v":1.58},
{"s":"M22","c":21,"v":9e-3},{"s":"M22","c":22,"v":2.4e-2},{"s":"M22","c":23,"v":1.7e-2},{"s":"M22","c":24,"v":1.3e-2},{"s":"M22","c":25,"v":9e-3},{"s":"M22","c":26,"v":1.4e-2},{"s":"M22","c":27,"v":6e-3},{"s":"M22","c":28,"v":1.0e-2},{"s":"M22","c":29,"v":4e-3},{"s":"M22","c":30,"v":9e-3},{"s":"M22","c":31,"v":6e-3},{"s":"M22","c":32,"v":4.0e-3},{"s":"M22","c":33,"v":8.9e-3},{"s":"M22","c":34,"v":2.0e-2},{"s":"M22","c":35,"v":4.5e-2},{"s":"M22","c":36,"v":0.1},{"s":"M22","c":37,"v":0.152},{"s":"M22","c":38,"v":0.21},{"s":"M22","c":39,"v":0.28},{"s":"M22","c":40,"v":0.34},{"s":"M22","c":41,"v":0.4},{"s":"M22","c":42,"v":0.46},{"s":"M22","c":43,"v":0.51},{"s":"M22","c":44,"v":0.56},{"s":"M22","c":45,"v":0.6},
{"s":"M23","c":21,"v":3e-3},{"s":"M23","c":22,"v":1.2e-2},{"s":"M23","c":23,"v":1.8e-2},{"s":"M23","c":24,"v":5e-3},{"s":"M23","c":25,"v":1.1e-2},{"s":"M23","c":26,"v":1.6e-2},{"s":"M23","c":27,"v":3e-3},{"s":"M23","c":28,"v":7e-3},{"s":"M23","c":29,"v":1.1e-2},{"s":"M23","c":30,"v":2.5e-3},{"s":"M23","c":31,"v":5e-3},{"s":"M23","c":32,"v":4.0e-3},{"s":"M23","c":33,"v":8.9e-3},{"s":"M23","c":34,"v":2.0e-2},{"s":"M23","c":35,"v":4.5e-2},{"s":"M23","c":36,"v":0.1},{"s":"M23","c":37,"v":0.168},{"s":"M23","c":38,"v":0.25},{"s":"M23","c":39,"v":0.35},{"s":"M23","c":40,"v":0.45},{"s":"M23","c":41,"v":0.555},{"s":"M23","c":42,"v":0.655},{"s":"M23","c":43,"v":0.745},{"s":"M23","c":44,"v":0.83},{"s":"M23","c":45,"v":0.91},
{"s":"M24","c":21,"v":1.0e-2},{"s":"M24","c":22,"v":2.2e-2},{"s":"M24","c":23,"v":1.1e-2},{"s":"M24","c":24,"v":1.6e-2},{"s":"M24","c":25,"v":6e-3},{"s":"M24","c":26,"v":1.0e-2},{"s":"M24","c":27,"v":7e-4},{"s":"M24","c":28,"v":5e-3},{"s":"M24","c":29,"v":9e-3},{"s":"M24","c":30,"v":4e-3},{"s":"M24","c":31,"v":8e-3},{"s":"M24","c":32,"v":3e-3},{"s":"M24","c":33,"v":4.0e-3},{"s":"M24","c":34,"v":8.9e-3},{"s":"M24","c":35,"v":2.0e-2},{"s":"M24","c":36,"v":4.5e-2},{"s":"M24","c":37,"v":0.1},{"s":"M24","c":38,"v":0.19},{"s":"M24","c":39,"v":0.32},{"s":"M24","c":40,"v":0.48},{"s":"M24","c":41,"v":0.66},{"s":"M24","c":42,"v":0.85},{"s":"M24","c":43,"v":1.05},{"s":"M24","c":44,"v":1.23},{"s":"M24","c":45,"v":1.41},
{"s":"M25","c":21,"v":5e-3},{"s":"M25","c":22,"v":1.8e-2},{"s":"M25","c":23,"v":2.5e-2},{"s":"M25","c":24,"v":1.2e-2},{"s":"M25","c":25,"v":8e-3},{"s":"M25","c":26,"v":3e-3},{"s":"M25","c":27,"v":9e-3},{"s":"M25","c":28,"v":1.2e-2},{"s":"M25","c":29,"v":5e-3},{"s":"M25","c":30,"v":1.0e-2},{"s":"M25","c":31,"v":4e-3},{"s":"M25","c":32,"v":7e-3},{"s":"M25","c":33,"v":4.0e-3},{"s":"M25","c":34,"v":8.9e-3},{"s":"M25","c":35,"v":2.0e-2},{"s":"M25","c":36,"v":4.5e-2},{"s":"M25","c":37,"v":0.1},{"s":"M25","c":38,"v":0.152},{"s":"M25","c":39,"v":0.21},{"s":"M25","c":40,"v":0.28},{"s":"M25","c":41,"v":0.34},{"s":"M25","c":42,"v":0.4},{"s":"M25","c":43,"v":0.46},{"s":"M25","c":44,"v":0.51},{"s":"M25","c":45,"v":0.56},
{"s":"M26","c":21,"v":7e-3},{"s":"M26","c":22,"v":2.0e-2},{"s":"M26","c":23,"v":1.5e-2},{"s":"M26","c":24,"v":9e-3},{"s":"M26","c":25,"v":1.9e-2},{"s":"M26","c":26,"v":7e-3},{"s":"M26","c":27,"v":1.1e-2},{"s":"M26","c":28,"v":4e-3},{"s":"M26","c":29,"v":8e-3},{"s":"M26","c":30,"v":1.3e-2},{"s":"M26","c":31,"v":6e-3},{"s":"M26","c":32,"v":3.5e-3},{"s":"M26","c":33,"v":9e-4},{"s":"M26","c":34,"v":4.0e-3},{"s":"M26","c":35,"v":8.9e-3},{"s":"M26","c":36,"v":2.0e-2},{"s":"M26","c":37,"v":4.5e-2},{"s":"M26","c":38,"v":0.1},{"s":"M26","c":39,"v":0.168},{"s":"M26","c":40,"v":0.25},{"s":"M26","c":41,"v":0.35},{"s":"M26","c":42,"v":0.45},{"s":"M26","c":43,"v":0.555},{"s":"M26","c":44,"v":0.655},{"s":"M26","c":45,"v":0.745},
{"s":"M27","c":21,"v":1.2e-2},{"s":"M27","c":22,"v":2.3e-2},{"s":"M27","c":23,"v":8e-3},{"s":"M27","c":24,"v":1.4e-2},{"s":"M27","c":25,"v":1.0e-2},{"s":"M27","c":26,"v":1.6e-2},{"s":"M27","c":27,"v":7e-3},{"s":"M27","c":28,"v":9e-3},{"s":"M27","c":29,"v":2e-3},{"s":"M27","c":30,"v":6e-3},{"s":"M27","c":31,"v":1.0e-2},{"s":"M27","c":32,"v":5e-3},{"s":"M27","c":33,"v":7e-3},{"s":"M27","c":34,"v":4.0e-3},{"s":"M27","c":35,"v":8.9e-3},{"s":"M27","c":36,"v":2.0e-2},{"s":"M27","c":37,"v":4.5e-2},{"s":"M27","c":38,"v":0.1},{"s":"M27","c":39,"v":0.138},{"s":"M27","c":40,"v":0.178},{"s":"M27","c":41,"v":0.22},{"s":"M27","c":42,"v":0.257},{"s":"M27","c":43,"v":0.29},{"s":"M27","c":44,"v":0.32},{"s":"M27","c":45,"v":0.35},
{"s":"M28","c":21,"v":8e-3},{"s":"M28","c":22,"v":1.4e-2},{"s":"M28","c":23,"v":2.1e-2},{"s":"M28","c":24,"v":1.0e-2},{"s":"M28","c":25,"v":1.3e-2},{"s":"M28","c":26,"v":4e-3},{"s":"M28","c":27,"v":1.0e-2},{"s":"M28","c":28,"v":1.5e-2},{"s":"M28","c":29,"v":6e-3},{"s":"M28","c":30,"v":3e-3},{"s":"M28","c":31,"v":9e-3},{"s":"M28","c":32,"v":1.2e-2},{"s":"M28","c":33,"v":5e-3},{"s":"M28","c":34,"v":8e-3},{"s":"M28","c":35,"v":4.0e-3},{"s":"M28","c":36,"v":8.9e-3},{"s":"M28","c":37,"v":2.0e-2},{"s":"M28","c":38,"v":4.5e-2},{"s":"M28","c":39,"v":0.1},{"s":"M28","c":40,"v":0.138},{"s":"M28","c":41,"v":0.178},{"s":"M28","c":42,"v":0.22},{"s":"M28","c":43,"v":0.257},{"s":"M28","c":44,"v":0.29},{"s":"M28","c":45,"v":0.32},
{"s":"M29","c":21,"v":5e-3},{"s":"M29","c":22,"v":1.6e-2},{"s":"M29","c":23,"v":1.2e-2},{"s":"M29","c":24,"v":7e-3},{"s":"M29","c":25,"v":1.0e-2},{"s":"M29","c":26,"v":5e-3},{"s":"M29","c":27,"v":8e-3},{"s":"M29","c":28,"v":1.2e-2},{"s":"M29","c":29,"v":1.0e-2},{"s":"M29","c":30,"v":1.4e-2},{"s":"M29","c":31,"v":1.3e-2},{"s":"M29","c":32,"v":1.6e-2},{"s":"M29","c":33,"v":1.9e-2},{"s":"M29","c":34,"v":2.1e-2},{"s":"M29","c":35,"v":2.3e-2},{"s":"M29","c":36,"v":3.2e-2},{"s":"M29","c":37,"v":3.2e-2},{"s":"M29","c":38,"v":3.2e-2},{"s":"M29","c":39,"v":3.3e-2},{"s":"M29","c":40,"v":3.7e-2},{"s":"M29","c":41,"v":4.2e-2},{"s":"M29","c":42,"v":5.2e-2},{"s":"M29","c":43,"v":6.3e-2},{"s":"M29","c":44,"v":7.0e-2},{"s":"M29","c":45,"v":7.9e-2},
{"s":"M30","c":21,"v":3e-3},{"s":"M30","c":22,"v":1.4e-2},{"s":"M30","c":23,"v":9e-3},{"s":"M30","c":24,"v":1.2e-2},{"s":"M30","c":25,"v":5e-3},{"s":"M30","c":26,"v":9e-3},{"s":"M30","c":27,"v":4e-3},{"s":"M30","c":28,"v":7e-3},{"s":"M30","c":29,"v":5e-3},{"s":"M30","c":30,"v":8e-3},{"s":"M30","c":31,"v":6e-3},{"s":"M30","c":32,"v":4.5e-3},{"s":"M30","c":33,"v":6e-3},{"s":"M30","c":34,"v":8e-3},{"s":"M30","c":35,"v":1.5e-2},{"s":"M30","c":36,"v":1.7e-2},{"s":"M30","c":37,"v":2.1e-2},{"s":"M30","c":38,"v":1.7e-2},{"s":"M30","c":39,"v":1.55e-2},{"s":"M30","c":40,"v":2.3e-2},{"s":"M30","c":41,"v":1.7e-2},{"s":"M30","c":42,"v":2.1e-2},{"s":"M30","c":43,"v":2.1e-2},{"s":"M30","c":44,"v":2.4e-2},{"s":"M30","c":45,"v":1.7e-2},
{"s":"M31","c":21,"v":2e-3},{"s":"M31","c":22,"v":9e-3},{"s":"M31","c":23,"v":5e-3},{"s":"M31","c":24,"v":1.1e-2},{"s":"M31","c":25,"v":3e-3},{"s":"M31","c":26,"v":7e-3},{"s":"M31","c":27,"v":5e-3},{"s":"M31","c":28,"v":4e-3},{"s":"M31","c":29,"v":3e-3},{"s":"M31","c":30,"v":4.5e-3},{"s":"M31","c":31,"v":3.5e-3},{"s":"M31","c":32,"v":5e-3},{"s":"M31","c":33,"v":4e-3},{"s":"M31","c":34,"v":3.2e-3},{"s":"M31","c":35,"v":4.5e-3},{"s":"M31","c":36,"v":6e-3},{"s":"M31","c":37,"v":8e-3},{"s":"M31","c":38,"v":1.7e-2},{"s":"M31","c":39,"v":4.2e-3},{"s":"M31","c":40,"v":3.3e-3},{"s":"M31","c":41,"v":2.9e-3},{"s":"M31","c":42,"v":1.0e-2},{"s":"M31","c":43,"v":1.4e-2},{"s":"M31","c":44,"v":1.8e-2},{"s":"M31","c":45,"v":1.4e-2},
{"s":"M32","c":20,"v":1.8e-3},{"s":"M32","c":21,"v":1.7e-4},{"s":"M32","c":22,"v":1.0e-2},{"s":"M32","c":23,"v":6e-3},{"s":"M32","c":24,"v":9e-3},{"s":"M32","c":25,"v":1.2e-2},{"s":"M32","c":26,"v":5e-3},{"s":"M32","c":27,"v":2.0e-3},{"s":"M32","c":28,"v":6e-3},{"s":"M32","c":29,"v":1.0e-2},{"s":"M32","c":30,"v":8e-3},{"s":"M32","c":31,"v":1.2e-2},{"s":"M32","c":32,"v":9e-3},{"s":"M32","c":33,"v":1.3e-2},{"s":"M32","c":34,"v":1.1e-2},{"s":"M32","c":35,"v":1.4e-2},{"s":"M32","c":36,"v":1.6e-2},{"s":"M32","c":37,"v":1.5e-2},{"s":"M32","c":38,"v":1.7e-2},{"s":"M32","c":39,"v":1.2e-3},{"s":"M32","c":40,"v":4.2e-3},{"s":"M32","c":41,"v":6.3e-3},{"s":"M32","c":42,"v":1.4e-2},{"s":"M32","c":43,"v":1.4e-2},
{"s":"M33","c":21,"v":4e-3},{"s":"M33","c":22,"v":1.1e-2},{"s":"M33","c":23,"v":8e-3},{"s":"M33","c":24,"v":3e-3},{"s":"M33","c":25,"v":6e-3},{"s":"M33","c":26,"v":9e-3},{"s":"M33","c":27,"v":2.5e-3},{"s":"M33","c":28,"v":5e-3},{"s":"M33","c":29,"v":8e-3},{"s":"M33","c":30,"v":2e-3},{"s":"M33","c":31,"v":4e-3},{"s":"M33","c":32,"v":6e-3},{"s":"M33","c":33,"v":1.0e-2},{"s":"M33","c":34,"v":9e-4},{"s":"M33","c":35,"v":1.5e-2},{"s":"M33","c":36,"v":7.4e-3},{"s":"M33","c":37,"v":4e-4},
{"s":"M34","c":39,"v":2.1e-3},{"s":"M34","c":40,"v":2.1e-3},
{"s":"M35","c":28,"v":6e-3},{"s":"M35","c":29,"v":4.0e-3},{"s":"M35","c":30,"v":8.9e-3},{"s":"M35","c":31,"v":2.0e-2},{"s":"M35","c":32,"v":4.5e-2},{"s":"M35","c":33,"v":0.1},{"s":"M35","c":34,"v":0.179},{"s":"M35","c":35,"v":0.28},{"s":"M35","c":36,"v":0.41},{"s":"M35","c":37,"v":0.55},{"s":"M35","c":38,"v":0.69},{"s":"M35","c":39,"v":0.83},{"s":"M35","c":40,"v":0.96},{"s":"M35","c":41,"v":1.08},{"s":"M35","c":42,"v":1.2},{"s":"M35","c":43,"v":1.31},{"s":"M35","c":44,"v":1.39},{"s":"M35","c":45,"v":1.48},
{"s":"M36","c":27,"v":8e-3},{"s":"M36","c":28,"v":3e-3},{"s":"M36","c":29,"v":6e-3},{"s":"M36","c":30,"v":4.0e-3},{"s":"M36","c":31,"v":8.9e-3},{"s":"M36","c":32,"v":2.0e-2},{"s":"M36","c":33,"v":4.5e-2},{"s":"M36","c":34,"v":0.1},{"s":"M36","c":35,"v":0.179},{"s":"M36","c":36,"v":0.28},{"s":"M36","c":37,"v":0.41},{"s":"M36","c":38,"v":0.55},{"s":"M36","c":39,"v":0.69},{"s":"M36","c":40,"v":0.83},{"s":"M36","c":41,"v":0.96},{"s":"M36","c":42,"v":1.08},{"s":"M36","c":43,"v":1.2},{"s":"M36","c":44,"v":1.31},{"s":"M36","c":45,"v":1.39},
{"s":"M37","c":28,"v":1.0e-2},{"s":"M37","c":29,"v":5e-3},{"s":"M37","c":30,"v":9e-3},{"s":"M37","c":31,"v":4.0e-3},{"s":"M37","c":32,"v":8.9e-3},{"s":"M37","c":33,"v":2.0e-2},{"s":"M37","c":34,"v":4.5e-2},{"s":"M37","c":35,"v":0.1},{"s":"M37","c":36,"v":0.179},{"s":"M37","c":37,"v":0.28},{"s":"M37","c":38,"v":0.41},{"s":"M37","c":39,"v":0.55},{"s":"M37","c":40,"v":0.69},{"s":"M37","c":41,"v":0.83},{"s":"M37","c":42,"v":0.96},{"s":"M37","c":43,"v":1.08},{"s":"M37","c":44,"v":1.2},{"s":"M37","c":45,"v":1.31},
{"s":"M38","c":26,"v":7e-3},{"s":"M38","c":27,"v":1.2e-2},{"s":"M38","c":28,"v":4.0e-3},{"s":"M38","c":29,"v":8.9e-3},{"s":"M38","c":30,"v":2.0e-2},{"s":"M38","c":31,"v":4.5e-2},{"s":"M38","c":32,"v":0.1},{"s":"M38","c":33,"v":0.179},{"s":"M38","c":34,"v":0.28},{"s":"M38","c":35,"v":0.41},{"s":"M38","c":36,"v":0.55},{"s":"M38","c":37,"v":0.69},{"s":"M38","c":38,"v":0.83},{"s":"M38","c":39,"v":0.96},{"s":"M38","c":40,"v":1.08},{"s":"M38","c":41,"v":1.2},{"s":"M38","c":42,"v":1.31},{"s":"M38","c":43,"v":1.39},{"s":"M38","c":44,"v":1.48},{"s":"M38","c":45,"v":1.55},
{"s":"M39","c":27,"v":4e-3},{"s":"M39","c":28,"v":9e-3},{"s":"M39","c":29,"v":1.2e-2},{"s":"M39","c":30,"v":4.0e-3},{"s":"M39","c":31,"v":8.9e-3},{"s":"M39","c":32,"v":2.0e-2},{"s":"M39","c":33,"v":4.5e-2},{"s":"M39","c":34,"v":0.1},{"s":"M39","c":35,"v":0.19},{"s":"M39","c":36,"v":0.32},{"s":"M39","c":37,"v":0.48},{"s":"M39","c":38,"v":0.66},{"s":"M39","c":39,"v":0.85},{"s":"M39","c":40,"v":1.05},{"s":"M39","c":41,"v":1.23},{"s":"M39","c":42,"v":1.41},{"s":"M39","c":43,"v":1.58},{"s":"M39","c":44,"v":1.74},{"s":"M39","c":45,"v":1.86},
{"s":"M40","c":29,"v":6e-3},{"s":"M40","c":30,"v":1.1e-2},{"s":"M40","c":31,"v":5e-3},{"s":"M40","c":32,"v":4.0e-3},{"s":"M40","c":33,"v":8.9e-3},{"s":"M40","c":34,"v":2.0e-2},{"s":"M40","c":35,"v":4.5e-2},{"s":"M40","c":36,"v":0.1},{"s":"M40","c":37,"v":0.179},{"s":"M40","c":38,"v":0.28},{"s":"M40","c":39,"v":0.41},{"s":"M40","c":40,"v":0.55},{"s":"M40","c":41,"v":0.69},{"s":"M40","c":42,"v":0.83},{"s":"M40","c":43,"v":0.96},{"s":"M40","c":44,"v":1.08},{"s":"M40","c":45,"v":1.2}
]
},
"vconcat": [
{
  "width": 436, "height": 244,
  "title": {"text": "A", "anchor": "start", "frame": "group", "fontSize": 16, "fontWeight": "bold", "dx": 11, "offset": 7},
  "layer": [
    {
      "data": {"name": "A"},
      "mark": {"type": "line", "strokeWidth": 1, "clip": true},
      "encoding": {
        "x": {"field": "c", "type": "quantitative", "scale": {"domain": [0.7, 29.2], "nice": false, "zero": false},
              "axis": {"values": [2,3,4,5,6,7,8,9,10,11,12,13,14,15,16,17,18,19,20,21,22,23,24,25,26,27,28,29], "tickCount": 100, "grid": true, "labels": false, "title": "Cycles", "titleFontSize": 14, "titleFontWeight": "bold", "titlePadding": 14}},
        "y": {"field": "v", "type": "quantitative", "scale": {"type": "log", "domain": [1e-6, 0.83], "nice": false},
              "axis": {"values": [1e-6, 1e-5, 1e-4, 1e-3, 1e-2, 1e-1], "tickCount": 100, "grid": true, "labelFontSize": 12, "labelPadding": 8,
                       "labelExpr": "datum.value > 0.05 ? '10⁻¹' : datum.value > 0.005 ? '10⁻²' : datum.value > 0.0005 ? '10⁻³' : datum.value > 0.00005 ? '10⁻⁴' : ''",
                       "title": "ΔRn", "titleFontSize": 13, "titleFontWeight": "normal", "titlePadding": 10, "titleY": 99}},
        "color": {"field": "s", "type": "nominal", "legend": null,
                  "scale": {"domain": ["S1","S2","S3","S4","S5","S6","U1","U2","U3","U4","U5","U6","U7","U8","U9","U10","U11","U12","U13","U14","U15"],
                            "range": ["#333333","#444444","#8a8a8a","#444444","#8a8a8a","#222222","#222222","#333333","#666666","#bbbbbb","#aaaaaa","#222222","#555555","#777777","#444444","#222222","#111111","#999999","#333333","#555555","#999999"]}}
      }
    },
    {"data": {"values": [{}]}, "mark": {"type": "rule", "strokeWidth": 3, "color": "#555555"}, "encoding": {"y": {"datum": 0.0032}}},
    {"data": {"values": [{}]}, "mark": {"type": "text", "fontSize": 12.5, "align": "center", "baseline": "middle", "color": "#222"}, "encoding": {"x": {"datum": 17.5}, "y": {"datum": 0.156}, "text": {"value": "Standard Curve"}}},
    {"data": {"values": [{}]}, "mark": {"type": "text", "fontSize": 12.5, "align": "left", "baseline": "middle", "color": "#222"}, "encoding": {"x": {"datum": 2.4}, "y": {"datum": 0.005}, "text": {"value": "threshold"}}},
    {"data": {"values": [{}]}, "mark": {"type": "text", "fontSize": 12.5, "align": "center", "baseline": "middle", "color": "#222"}, "encoding": {"x": {"datum": 21.4}, "y": {"datum": 0.00004}, "text": {"value": "Unmethylated samples"}}}
  ]
},
{
  "width": 397, "height": 237,
  "title": {"text": "B", "anchor": "start", "frame": "group", "fontSize": 13, "fontWeight": "bold", "dx": 4, "offset": 7},
  "layer": [
    {
      "data": {"name": "B"},
      "mark": {"type": "line", "strokeWidth": 1, "clip": true},
      "encoding": {
        "x": {"field": "c", "type": "quantitative", "scale": {"domain": [19, 45.5], "nice": false, "zero": false},
              "axis": {"values": [19,20,21,22,23,24,25,26,27,28,29,30,31,32,33,34,35,36,37,38,39,40,41,42,43,44,45], "tickCount": 100, "grid": true, "labelOverlap": false, "format": "d",
                       "labelExpr": "indexof([19, 28, 39, 45], datum.value) >= 0 ? format(datum.value, 'd') : ''", "labelFontSize": 12, "labelPadding": 5,
                       "title": "Cycles", "titleFontSize": 14, "titleFontWeight": "bold", "titlePadding": 11}},
        "y": {"field": "v", "type": "quantitative", "scale": {"type": "log", "domain": [8.7e-5, 9.8], "nice": false},
              "axis": {"values": [1e-4, 1e-3, 1e-2, 1e-1, 1], "tickCount": 100, "grid": true, "labelFontSize": 12, "labelPadding": 8,
                       "labelExpr": "datum.value > 0.5 ? '10⁰' : datum.value > 0.05 ? '10⁻¹' : datum.value > 0.005 ? '10⁻²' : datum.value > 0.0005 ? '10⁻³' : ''",
                       "title": "ΔRn", "titleFontSize": 13, "titleFontWeight": "bold", "titlePadding": 10, "titleY": 106}},
        "color": {"field": "s", "type": "nominal", "legend": null,
                  "scale": {"domain": ["M1","M2","M3","M4","M5","M6","M7","M8","M9","M10","M11","M12","M13","M14","M15","M16","M17","M18","M19","M20","M21","M22","M23","M24","M25","M26","M27","M28","M29","M30","M31","M32","M33","M34","M35","M36","M37","M38","M39","M40"],
                            "range": ["#aaaaaa","#333333","#555555","#222222","#333333","#777777","#222222","#444444","#999999","#333333","#111111","#666666","#222222","#444444","#bbbbbb","#222222","#555555","#333333","#777777","#111111","#444444","#aaaaaa","#222222","#333333","#666666","#222222","#888888","#444444","#777777","#888888","#777777","#bbbbbb","#333333","#555555","#222222","#333333","#444444","#222222","#555555","#111111"]}}
      }
    },
    {"data": {"values": [{}]}, "mark": {"type": "rule", "strokeWidth": 1.3, "color": "#333333"}, "encoding": {"x": {"datum": 28}, "y": {"datum": 0.12}, "y2": {"datum": 8.7e-5}}},
    {"data": {"values": [{}]}, "mark": {"type": "rule", "strokeWidth": 1.3, "color": "#333333"}, "encoding": {"x": {"datum": 39}, "y": {"datum": 0.12}, "y2": {"datum": 8.7e-5}}},
    {"data": {"values": [{}]}, "mark": {"type": "rule", "strokeWidth": 4, "color": "#8a8a8a"}, "encoding": {"x": {"datum": 45.36}, "y": {"datum": 8.7e-5}, "y2": {"datum": 9.8}}},
    {"data": {"values": [{}]}, "mark": {"type": "rule", "strokeWidth": 3, "color": "#555555"}, "encoding": {"x": {"datum": 19}, "x2": {"datum": 45.0}, "y": {"datum": 0.098}}},
    {"data": {"values": [{}]}, "mark": {"type": "point", "shape": "triangle-right", "size": 45, "filled": true, "color": "#555555", "opacity": 1}, "encoding": {"x": {"datum": 45.1}, "y": {"datum": 0.098}}},
    {"data": {"values": [{}]}, "mark": {"type": "text", "fontSize": 12, "align": "left", "baseline": "middle", "color": "#222"}, "encoding": {"x": {"datum": 20.1}, "y": {"datum": 0.145}, "text": {"value": "threshold"}}},
    {"data": {"values": [{}]}, "mark": {"type": "text", "fontSize": 12, "align": "center", "baseline": "middle", "color": "#222"}, "encoding": {"x": {"datum": 38.6}, "y": {"datum": 3.6}, "text": {"value": "Methylated samples"}}}
  ]
}
]
}
